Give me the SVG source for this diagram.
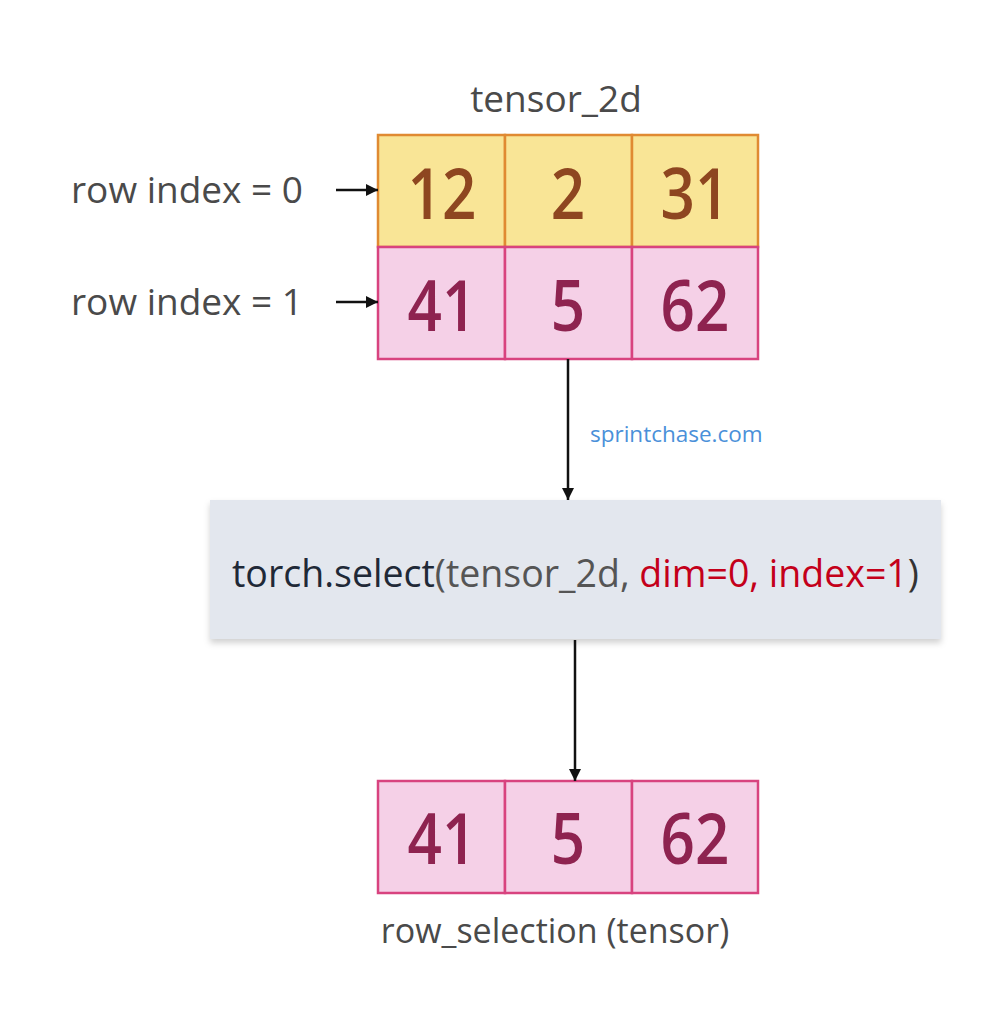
<svg xmlns="http://www.w3.org/2000/svg" width="997" height="1024" viewBox="0 0 997 1024">
<defs>
<marker id="ah" viewBox="0 0 10 10" refX="10" refY="5" markerWidth="12" markerHeight="12" markerUnits="userSpaceOnUse" orient="auto"><path d="M0,0 L10,5 L0,10 z" fill="#111"/></marker>
<filter id="sh" x="-5%" y="-10%" width="110%" height="130%"><feDropShadow dx="0" dy="4" stdDeviation="3" flood-color="#000" flood-opacity="0.18"/></filter>
</defs>
<style>
text{font-family:"Open Sans","Noto Sans",sans-serif}
.lbl{font-size:37px;fill:#4a4a4a}
.y{fill:#f9e596;stroke:#e08a32;stroke-width:2.5}
.p{fill:#f5d0e7;stroke:#d8437f;stroke-width:2.5}
.ny{font-size:70px;font-weight:600;fill:#8e4620;text-anchor:middle}
.np{font-size:70px;font-weight:600;fill:#8e2350;text-anchor:middle}
.c{stroke:#111;stroke-width:2.5;fill:none;marker-end:url(#ah)}
</style>
<rect width="997" height="1024" fill="#fff"/>
<g id="title"><text class="lbl" x="556" y="112" text-anchor="middle">tensor_2d</text></g>
<g id="labels">
<text class="lbl" x="71" y="203">row index = 0</text>
<text class="lbl" x="71" y="315">row index = 1</text>
</g>
<g id="tensor_2d">
<rect class="y" x="378" y="135" width="127" height="112"/>
<rect class="y" x="505" y="135" width="127" height="112"/>
<rect class="y" x="632" y="135" width="126" height="112"/>
<rect class="p" x="378" y="247" width="127" height="112"/>
<rect class="p" x="505" y="247" width="127" height="112"/>
<rect class="p" x="632" y="247" width="126" height="112"/>
<text class="ny" transform="translate(442,219) scale(0.86,1)">12</text>
<text class="ny" transform="translate(568,219) scale(0.86,1)">2</text>
<text class="ny" transform="translate(695,219) scale(0.86,1)">31</text>
<text class="np" transform="translate(442,331) scale(0.86,1)">41</text>
<text class="np" transform="translate(568,331) scale(0.86,1)">5</text>
<text class="np" transform="translate(695,331) scale(0.86,1)">62</text>
</g>
<g id="select">
<rect x="210" y="500" width="731" height="139" fill="#e3e7ee" filter="url(#sh)"/>
<text x="232" y="587" font-size="37.5"><tspan fill="#1f2937">torch.select</tspan><tspan fill="#555">(tensor_2d, </tspan><tspan fill="#c4001a">dim=0, index=1</tspan><tspan fill="#333">)</tspan></text>
</g>
<g id="watermark"><text x="590" y="442" font-size="22.5" fill="#4a90d9">sprintchase.com</text></g>
<g id="row_selection">
<rect class="p" x="378" y="781" width="127" height="112"/>
<rect class="p" x="505" y="781" width="127" height="112"/>
<rect class="p" x="632" y="781" width="126" height="112"/>
<text class="np" transform="translate(442,864) scale(0.86,1)">41</text>
<text class="np" transform="translate(568,864) scale(0.86,1)">5</text>
<text class="np" transform="translate(695,864) scale(0.86,1)">62</text>
<text x="555" y="943" font-size="34" fill="#4a4a4a" text-anchor="middle">row_selection (tensor)</text>
</g>
<g id="connectors">
<line class="c" x1="336" y1="190" x2="378" y2="190"/>
<line class="c" x1="336" y1="302" x2="378" y2="302"/>
<line class="c" x1="568" y1="359" x2="568" y2="500"/>
<line class="c" x1="575" y1="640" x2="575" y2="781"/>
</g>
</svg>
